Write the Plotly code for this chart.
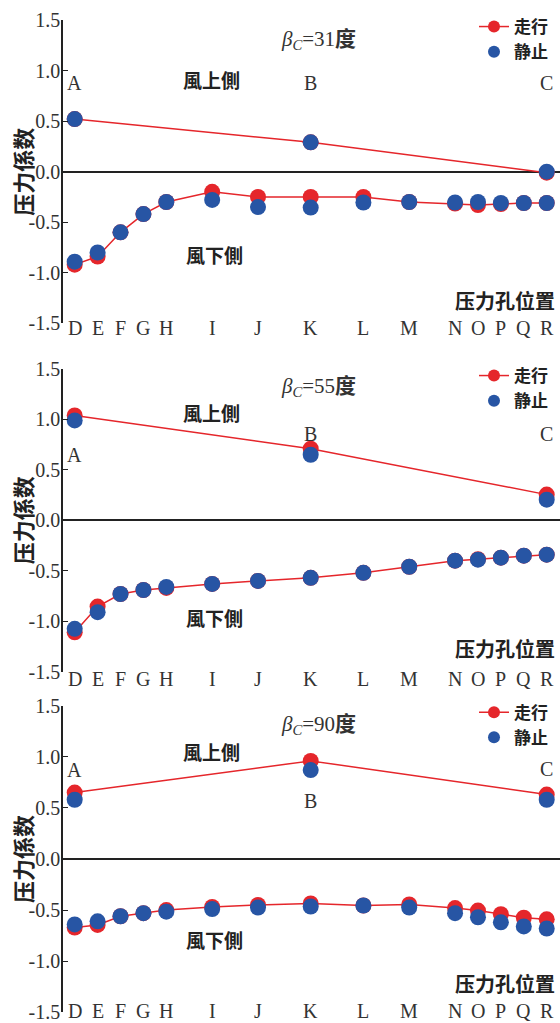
import plotly.graph_objects as go

# Pressure-hole labels and their positions along the section
holes = ["D", "E", "F", "G", "H", "I", "J", "K", "L", "M", "N", "O", "P", "Q", "R"]
hole_pos = [0, 1, 2, 3, 4, 6, 8, 10.3, 12.6, 14.6, 16.6, 17.6, 18.6, 19.6, 20.6]
ww_labels = ["A", "B", "C"]
ww_pos = [0, 10.3, 20.6]

angles = [31, 55, 90]
y_ticks = [1.5, 1.0, 0.5, 0.0, -0.5, -1.0, -1.5]
y_tick_text = ["1.5", "1.0", "0.5", "0.0", "-0.5", "-1.0", "-1.5"]

# βC = 31度
run_ww_31 = [0.52, 0.29, -0.01]
stop_ww_31 = [0.52, 0.29, 0.00]
run_lw_31 = [-0.92, -0.84, -0.60, -0.42, -0.30, -0.20, -0.25, -0.25, -0.25, -0.30, -0.315, -0.33, -0.32, -0.31, -0.31]
stop_lw_31 = [-0.89, -0.80, -0.60, -0.42, -0.30, -0.28, -0.35, -0.355, -0.305, -0.30, -0.305, -0.30, -0.31, -0.31, -0.31]

# βC = 55度
run_ww_55 = [1.04, 0.71, 0.255]
stop_ww_55 = [0.99, 0.65, 0.205]
run_lw_55 = [-1.11, -0.855, -0.73, -0.69, -0.67, -0.63, -0.60, -0.57, -0.52, -0.46, -0.40, -0.385, -0.37, -0.35, -0.34]
stop_lw_55 = [-1.075, -0.91, -0.73, -0.69, -0.66, -0.63, -0.60, -0.57, -0.52, -0.46, -0.40, -0.39, -0.37, -0.35, -0.34]

# βC = 90度
run_ww_90 = [0.65, 0.96, 0.63]
stop_ww_90 = [0.58, 0.87, 0.58]
run_lw_90 = [-0.67, -0.645, -0.56, -0.53, -0.50, -0.47, -0.45, -0.435, -0.455, -0.445, -0.48, -0.505, -0.54, -0.575, -0.59]
stop_lw_90 = [-0.64, -0.61, -0.56, -0.53, -0.515, -0.49, -0.475, -0.465, -0.455, -0.475, -0.53, -0.57, -0.62, -0.66, -0.68]

# A/B/C label heights per panel
abc_y_31 = [0.88, 0.88, 0.88]
abc_y_55 = [0.65, 0.86, 0.86]
abc_y_90 = [0.87, 0.57, 0.88]

RED = "#E5262B"
BLUE = "#2755A4"
SERIF = "Liberation Serif, Noto Sans CJK SC, serif"
CJK = "Noto Sans CJK SC, sans-serif"
INK = "#222"

W, H = 560, 1023
# panel pixel extents (top of 1.5, bottom of -1.5)
panel_px = [(20.0, 323.3), (369.0, 671.7), (705.7, 1012.3)]

panels = [
    # angle, series..., A/B/C heights, (title y, 風上側 y, 風下側 y, 压力孔位置 y)
    (31, run_ww_31, stop_ww_31, run_lw_31, stop_lw_31, abc_y_31, (1.30, 0.91, -0.815, -1.27)),
    (55, run_ww_55, stop_ww_55, run_lw_55, stop_lw_55, abc_y_55, (1.32, 1.07, -0.96, -1.27)),
    (90, run_ww_90, stop_ww_90, run_lw_90, stop_lw_90, abc_y_90, (1.31, 1.05, -0.79, -1.215)),
]

fig = go.Figure()
annotations = []
layout = {}

for i, (ang, rww, sww, rlw, slw, abc_y, ann_y) in enumerate(panels):
    n = i + 1
    xa = "x" if n == 1 else f"x{n}"
    ya = "y" if n == 1 else f"y{n}"
    leg = "legend" if n == 1 else f"legend{n}"

    xs = ww_pos + [None] + hole_pos
    fig.add_trace(go.Scatter(
        x=xs, y=rww + [None] + rlw, xaxis=xa, yaxis=ya,
        mode="lines+markers", name="走行", showlegend=False,
        line=dict(color=RED, width=1.5),
        marker=dict(color=RED, size=16),
        connectgaps=False,
    ))
    fig.add_trace(go.Scatter(
        x=xs, y=sww + [None] + slw, xaxis=xa, yaxis=ya,
        mode="markers", name="静止", showlegend=False,
        marker=dict(color=BLUE, size=16),
    ))
    # legend keys (smaller symbols than the plotted markers)
    fig.add_trace(go.Scatter(
        x=[None], y=[None], xaxis=xa, yaxis=ya, mode="lines+markers",
        name="走行", legend=leg, line=dict(color=RED, width=1.5),
        marker=dict(color=RED, size=12),
    ))
    fig.add_trace(go.Scatter(
        x=[None], y=[None], xaxis=xa, yaxis=ya, mode="markers",
        name="静止", legend=leg, marker=dict(color=BLUE, size=12),
    ))

    top, bot = panel_px[i]
    dom = [1 - bot / H, 1 - top / H]
    xkey = "xaxis" if n == 1 else f"xaxis{n}"
    ykey = "yaxis" if n == 1 else f"yaxis{n}"
    layout[xkey] = dict(
        domain=[0, 1], range=[-0.51, 21.18], anchor=ya,
        showticklabels=False, ticks="", showgrid=False, zeroline=False,
        showline=False, fixedrange=True, automargin=False,
    )
    layout[ykey] = dict(
        domain=dom, range=[-1.5, 1.5], anchor=xa,
        tickvals=y_ticks, ticktext=y_tick_text,
        ticks="inside", ticklen=5, tickwidth=1.3, tickcolor=INK,
        ticklabelstandoff=-3, ticklabeloverflow="allow",
        showline=True, linecolor=INK, linewidth=1.5,
        showgrid=False, zeroline=True, zerolinecolor=INK, zerolinewidth=1.6,
        tickfont=dict(family=SERIF, size=20, color="#333"),
        fixedrange=True, automargin=False,
    )
    layout[leg] = dict(
        xref="container", yref="container",
        x=474 / W, xanchor="left",
        y=1 - (top - 11) / H, yanchor="top",
        bgcolor="rgba(0,0,0,0)", borderwidth=0,
        font=dict(family=CJK, size=17, color=INK, weight="bold"),
        itemwidth=30, tracegroupgap=0,
    )

    title_y, up_y, down_y, pos_y = ann_y
    # y-axis title
    annotations.append(dict(
        xref="paper", yref=ya, x=0, xshift=22 - 63, y=0, xanchor="center",
        yanchor="middle", textangle=-90, showarrow=False, text="压力係数",
        font=dict(family=CJK, size=22, color=INK, weight="bold"),
    ))
    annotations.append(dict(
        xref=xa, yref=ya, x=10.65, y=title_y, showarrow=False,
        text=f"<i>β<sub>C</sub></i>={ang}<b>度</b>",
        font=dict(family=SERIF, size=21, color="#333"),
    ))
    annotations.append(dict(
        xref=xa, yref=ya, x=5.96, y=up_y, showarrow=False, text="風上側",
        font=dict(family=CJK, size=19, color=INK, weight="bold"),
    ))
    annotations.append(dict(
        xref=xa, yref=ya, x=6.09, y=down_y, showarrow=False, text="風下側",
        font=dict(family=CJK, size=19, color=INK, weight="bold"),
    ))
    annotations.append(dict(
        xref="paper", yref=ya, x=1, xanchor="right", xshift=-4, y=pos_y,
        showarrow=False, text="压力孔位置", borderpad=0,
        font=dict(family=CJK, size=20, color=INK, weight="bold"),
    ))
    for lab, px, py in zip(ww_labels, ww_pos, abc_y):
        annotations.append(dict(
            xref=xa, yref=ya, x=px, y=py, showarrow=False, text=lab,
            font=dict(family=SERIF, size=20, color="#333"),
        ))
    # hole letters just under the -1.5 level; the last panel's row sits on the page edge
    if n < 3:
        letter_pos = dict(yanchor="middle", yshift=-5 if n == 1 else -7)
    else:
        letter_pos = dict(yanchor="bottom", yshift=-(H - bot))
    for lab, px in zip(holes, hole_pos):
        annotations.append(dict(
            xref=xa, yref=ya, x=px, y=-1.5, showarrow=False, text=lab,
            borderpad=0, font=dict(family=SERIF, size=20, color="#333"),
            **letter_pos,
        ))

fig.update_layout(
    width=W, height=H,
    margin=dict(l=63, r=0, t=0, b=0, autoexpand=False),
    paper_bgcolor="white", plot_bgcolor="white",
    annotations=annotations,
    showlegend=True,
    **layout,
)

fig.write_html("out.html", config={"displayModeBar": False})
